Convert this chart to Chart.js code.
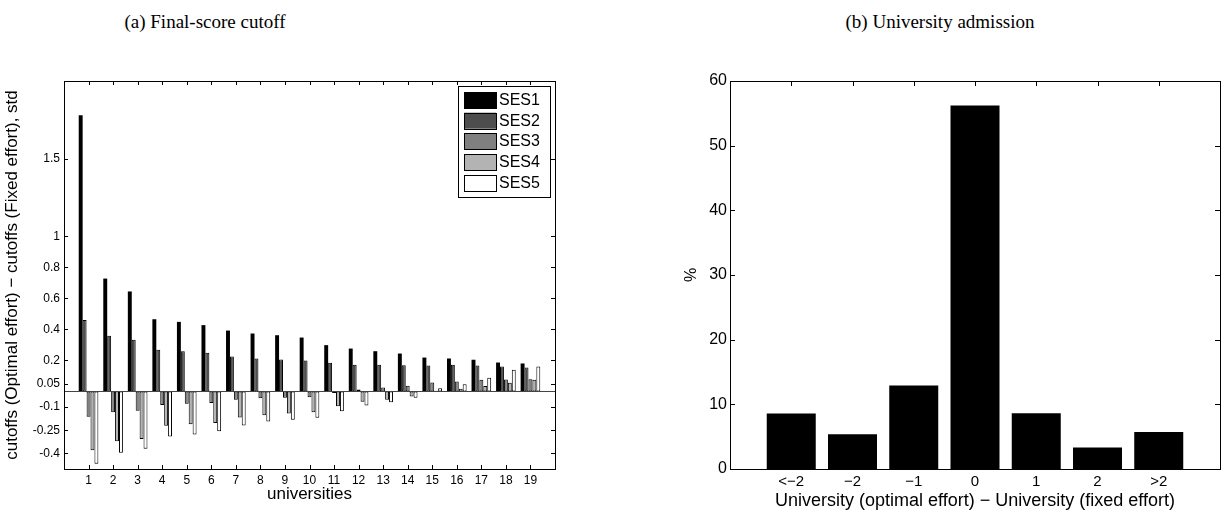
<!DOCTYPE html>
<html>
<head>
<meta charset="utf-8">
<script src="https://cdn.jsdelivr.net/npm/chart.js@4.4.1/dist/chart.umd.min.js"></script>
<style>
  body { margin: 0; background: #fff; }
  #wrap { position: relative; width: 1227px; height: 515px; overflow: hidden; }
  .sub { position: absolute; top: 0; height: 515px; }
  .cap { position: absolute; top: 11px; font-family: "Liberation Serif", serif; font-size: 19px; color: #000; transform: translateX(-50%); white-space: nowrap; }
</style>
</head>
<body>
<div id="wrap">
  <div class="cap" style="left:205px">(a) Final-score cutoff</div>
  <div class="cap" style="left:940px">(b) University admission</div>
  <div class="sub" style="left:0; width:610px"><canvas id="cutoffChart"></canvas></div>
  <div class="sub" style="left:610px; width:617px"><canvas id="admitChart"></canvas></div>
</div>
<script>
// (a) cutoff differences per university, by SES group
const universities = ["1","2","3","4","5","6","7","8","9","10","11","12","13","14","15","16","17","18","19"];
const ses1 = [1.78, 0.727, 0.644, 0.465, 0.448, 0.427, 0.392, 0.373, 0.362, 0.347, 0.298, 0.276, 0.259, 0.244, 0.218, 0.212, 0.204, 0.186, 0.18];
const ses2 = [0.46, 0.358, 0.332, 0.268, 0.259, 0.249, 0.225, 0.212, 0.205, 0.199, 0.184, 0.171, 0.171, 0.169, 0.167, 0.171, 0.167, 0.16, 0.154];
const ses3 = [-0.164, -0.134, -0.125, -0.087, -0.08, -0.074, -0.054, -0.044, -0.041, -0.037, -0.011, 0.012, 0.025, 0.036, 0.057, 0.064, 0.075, 0.077, 0.079];
const ses4 = [-0.379, -0.321, -0.306, -0.222, -0.211, -0.203, -0.168, -0.153, -0.142, -0.134, -0.095, -0.067, -0.054, -0.033, 0.004, 0.017, 0.034, 0.055, 0.075];
const ses5 = [-0.466, -0.396, -0.37, -0.29, -0.278, -0.256, -0.22, -0.194, -0.183, -0.17, -0.128, -0.091, -0.07, -0.041, 0.021, 0.046, 0.088, 0.139, 0.16];
const sesLabels = ["SES1", "SES2", "SES3", "SES4", "SES5"];
const sesColors = ["#000000", "#4d4d4d", "#808080", "#b3b3b3", "#ffffff"];
const cutoffTicks = [-0.4, -0.25, -0.1, 0.05, 0.2, 0.4, 0.6, 0.8, 1, 1.5];

// (b) admission shift
const shiftLabels = ["<\u22122", "\u22122", "\u22121", "0", "1", "2", ">2"];
const shiftPct = [8.58, 5.37, 12.9, 56.2, 8.62, 3.31, 5.73];

Chart.defaults.color = "#000";
Chart.defaults.font.family = "'Liberation Sans', Arial, sans-serif";
Chart.defaults.animation = false;

// pad the categories so the axis runs from 0 to n+1 like the original
const pad = (arr) => [null, ...arr, null];
const padLabels = (arr) => ["", ...arr, ""];

// box + inward ticks on all four sides, matlab style
const boxAxes = {
  id: "boxAxes",
  afterDraw(chart, args, opts) {
    const { ctx, chartArea: a, scales } = chart;
    const len = opts.tickLength || 5;
    ctx.save();
    ctx.strokeStyle = "#000";
    ctx.lineWidth = 1;
    ctx.beginPath();
    scales.x.ticks.forEach((t, i) => {
      if (scales.x.getLabelForValue(t.value) === "") return;
      const x = Math.round(scales.x.getPixelForTick(i)) + 0.5;
      ctx.moveTo(x, a.bottom); ctx.lineTo(x, a.bottom - len);
      ctx.moveTo(x, a.top); ctx.lineTo(x, a.top + len);
    });
    scales.y.ticks.forEach((t) => {
      const y = Math.round(scales.y.getPixelForValue(t.value)) + 0.5;
      ctx.moveTo(a.left, y); ctx.lineTo(a.left + len, y);
      ctx.moveTo(a.right, y); ctx.lineTo(a.right - len, y);
    });
    ctx.stroke();
    ctx.strokeRect(Math.round(a.left) + 0.5, Math.round(a.top) + 0.5, Math.round(a.right - a.left), Math.round(a.bottom - a.top));
    ctx.restore();
  },
};

// zero line of the bar plot
const baseLine = {
  id: "baseLine",
  afterDatasetsDraw(chart) {
    const { ctx, chartArea: a, scales } = chart;
    const y = Math.round(scales.y.getPixelForValue(0)) + 0.5;
    ctx.save();
    ctx.strokeStyle = "#444";
    ctx.lineWidth = 1;
    ctx.beginPath();
    ctx.moveTo(a.left, y); ctx.lineTo(a.right, y);
    ctx.stroke();
    ctx.restore();
  },
};

// legend box inside the top right corner
const insideLegend = {
  id: "insideLegend",
  afterDraw(chart) {
    const { ctx, chartArea: a } = chart;
    const sets = chart.data.datasets;
    const w = 92, rowH = 20.7, h = 111;
    const x0 = a.right - 5 - w, y0 = a.top + 5;
    ctx.save();
    ctx.fillStyle = "#fff";
    ctx.fillRect(x0, y0, w, h);
    ctx.strokeStyle = "#000";
    ctx.lineWidth = 1;
    ctx.strokeRect(Math.round(x0) + 0.5, Math.round(y0) + 0.5, w, h);
    ctx.font = "16px 'Liberation Sans', Arial, sans-serif";
    ctx.textBaseline = "middle";
    sets.forEach((ds, i) => {
      const py = y0 + 6 + i * rowH;
      ctx.fillStyle = ds.backgroundColor;
      ctx.fillRect(x0 + 6, py, 32, 16);
      ctx.strokeStyle = "#000";
      ctx.strokeRect(Math.round(x0 + 6) + 0.5, Math.round(py) + 0.5, 32, 16);
      ctx.fillStyle = "#000";
      ctx.fillText(ds.label, x0 + 41, py + 8.5);
    });
    ctx.restore();
  },
};

const cutoffSets = [ses1, ses2, ses3, ses4, ses5].map((vals, i) => ({
  label: sesLabels[i],
  data: pad(vals),
  backgroundColor: sesColors[i],
  borderColor: "#000",
  borderWidth: i === 0 ? 0 : 1,
  borderSkipped: false,
  categoryPercentage: 0.8,
  barPercentage: 1,
}));

new Chart(document.getElementById("cutoffChart"), {
  type: "bar",
  data: { labels: padLabels(universities), datasets: cutoffSets },
  options: {
    responsive: true,
    maintainAspectRatio: false,
    layout: { padding: { top: 81, right: 55, bottom: 6, left: 0 } },
    plugins: { legend: { display: false }, tooltip: { enabled: false }, boxAxes: { tickLength: 4 } },
    scales: {
      x: {
        offset: false,
        grid: { display: false, drawTicks: false },
        border: { display: false },
        ticks: { autoSkip: false, maxRotation: 0, padding: 4, font: { size: 12 } },
        title: { display: true, text: "universities", font: { size: 17 }, padding: { top: 0, bottom: 4 } },
        afterFit: (s) => { s.height = 40; },
      },
      y: {
        min: -0.5,
        max: 2,
        grid: { display: false, drawTicks: false },
        border: { display: false },
        afterBuildTicks: (s) => { s.ticks = cutoffTicks.map((v) => ({ value: v })); },
        ticks: { padding: 4, font: { size: 12 }, callback: (v) => String(v) },
        title: { display: true, text: "cutoffs (Optimal effort) \u2212 cutoffs (Fixed effort), std", font: { size: 17 }, padding: { top: 2, bottom: 0 } },
        afterFit: (s) => { s.width = 64; },
      },
    },
  },
  plugins: [baseLine, boxAxes, insideLegend],
});

new Chart(document.getElementById("admitChart"), {
  type: "bar",
  data: {
    labels: padLabels(shiftLabels),
    datasets: [{
      label: "%",
      data: pad(shiftPct),
      backgroundColor: "#000",
      borderWidth: 0,
      categoryPercentage: 0.8,
      barPercentage: 1,
    }],
  },
  options: {
    responsive: true,
    maintainAspectRatio: false,
    layout: { padding: { top: 81, right: 7, bottom: 0, left: 68 } },
    plugins: { legend: { display: false }, tooltip: { enabled: false }, boxAxes: { tickLength: 5 } },
    scales: {
      x: {
        offset: false,
        grid: { display: false, drawTicks: false },
        border: { display: false },
        ticks: { autoSkip: false, maxRotation: 0, padding: 4, font: { size: 15 } },
        title: { display: true, text: "University (optimal effort) \u2212 University (fixed effort)", font: { size: 18 }, padding: { top: 0, bottom: 3 } },
        afterFit: (s) => { s.height = 46; },
      },
      y: {
        min: 0,
        max: 60,
        grid: { display: false, drawTicks: false },
        border: { display: false },
        ticks: { stepSize: 10, padding: 3, font: { size: 16 } },
        title: { display: true, text: "%", font: { size: 16 }, padding: { top: 4, bottom: 0 } },
        afterFit: (s) => { s.width = 52; },
      },
    },
  },
  plugins: [boxAxes],
});
</script>
</body>
</html>
